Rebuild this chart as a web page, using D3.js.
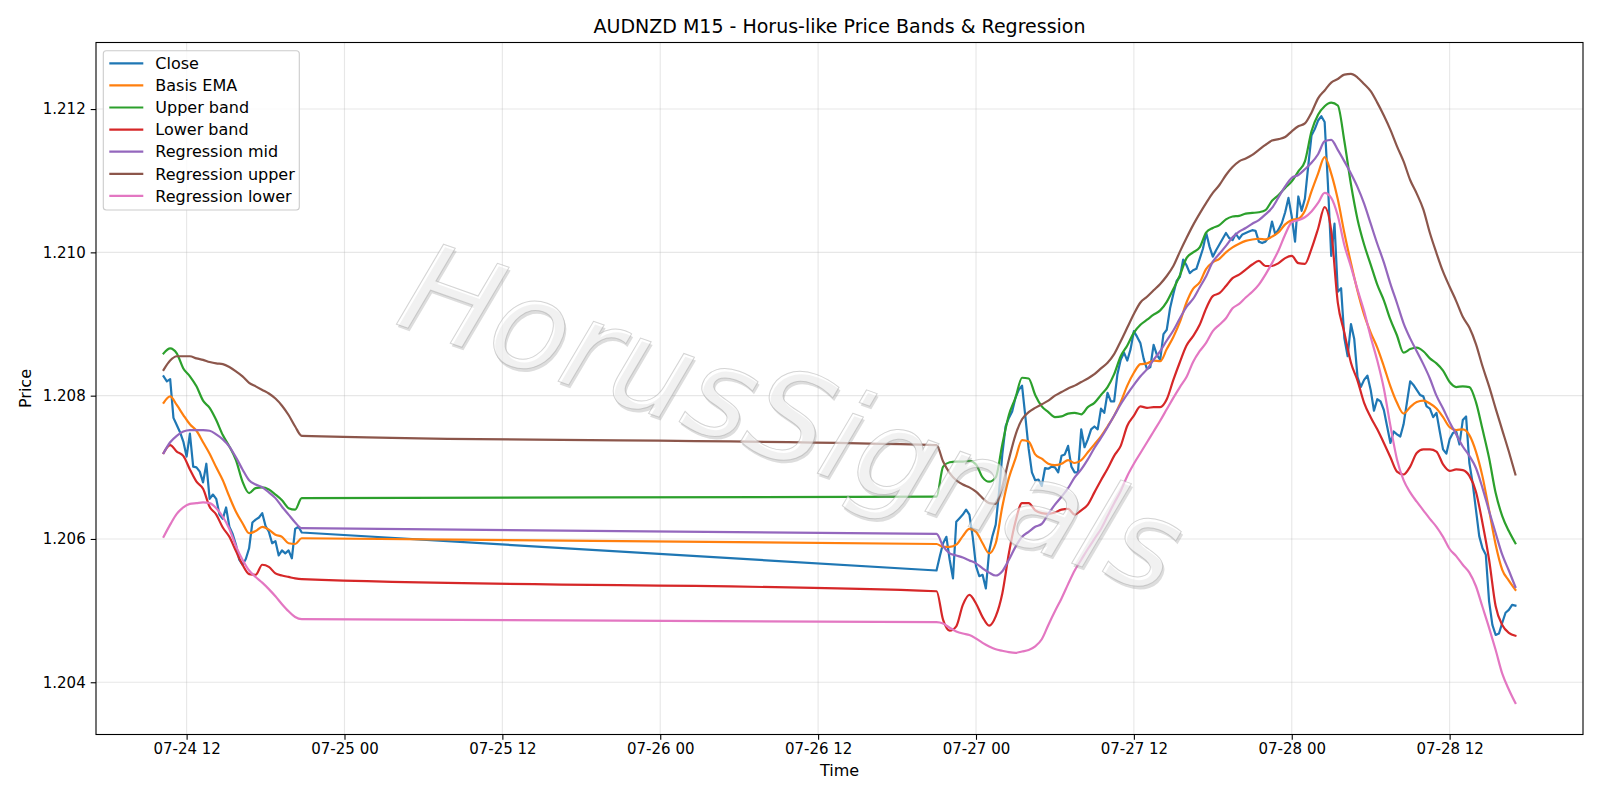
<!DOCTYPE html>
<html><head><meta charset="utf-8">
<script src="https://cdn.jsdelivr.net/npm/d3@7"></script>
<style>body{margin:0;background:#fff}svg{display:block}text{font-family:"DejaVu Sans",sans-serif}</style>
</head><body><svg id="c" width="1600" height="800"></svg>
<script>
// ---------------- data ----------------
const chartTitle = "AUDNZD M15 - Horus-like Price Bands & Regression";
const xLabel = "Time", yLabel = "Price";
const watermark = "HorusSignals";
const seg1Start = "2020-07-24T10:15:00Z";   // Friday session
const seg2Start = "2020-07-26T21:00:00Z";   // Sunday open
const closeStepMin = 15;                    // M15 bars
const bandStepMin = 30;                     // readings of the smooth lines
const yTicks = [1.204, 1.206, 1.208, 1.210, 1.212];

const close1 = [1.20827,1.20820,1.20823,1.20769,1.20759,1.20749,1.20736,1.20715,1.20747,1.20701,
1.20700,1.20694,1.20679,1.20705,1.20656,1.20662,1.20656,1.20634,1.20628,1.20644,
1.20617,1.20607,1.20592,1.20571,1.20564,1.20572,1.20587,1.20623,1.20627,1.20630,
1.20636,1.20618,1.20610,1.20594,1.20597,1.20577,1.20584,1.20580,1.20584,1.20573,
1.20614,1.20617,1.20609];
const close2 = [1.20556,1.20576,1.20594,1.20603,1.20571,1.20545,1.20624,1.20629,1.20634,1.20641,
1.20634,1.20603,1.20562,1.20548,1.20550,1.20531,1.20583,1.20604,1.20620,1.20665,
1.20718,1.20757,1.20769,1.20778,1.20797,1.20808,1.20814,1.20771,1.20726,1.20693,
1.20682,1.20683,1.20674,1.20699,1.20698,1.20701,1.20700,1.20693,1.20716,1.20718,
1.20730,1.20701,1.20693,1.20693,1.20753,1.20728,1.20739,1.20753,1.20757,1.20753,
1.20782,1.20776,1.20804,1.20792,1.20792,1.20830,1.20850,1.20860,1.20849,1.20865,
1.20890,1.20882,1.20873,1.20851,1.20837,1.20840,1.20871,1.20857,1.20850,1.20886,
1.20892,1.20922,1.20942,1.20960,1.20966,1.20990,1.20982,1.20971,1.20975,1.20977,
1.20991,1.21005,1.21027,1.21008,1.20994,1.21003,1.21011,1.21019,1.21027,1.21020,
1.21017,1.21026,1.21019,1.21025,1.21027,1.21029,1.21031,1.21030,1.21015,1.21013,
1.21015,1.21021,1.21043,1.21025,1.21032,1.21041,1.21056,1.21076,1.21050,1.21015,
1.21078,1.21058,1.21075,1.21120,1.21163,1.21172,1.21184,1.21190,1.21182,1.21095,
1.20995,1.21040,1.20945,1.20950,1.20880,1.20855,1.20900,1.20879,1.20826,1.20812,
1.20822,1.20828,1.20808,1.20779,1.20795,1.20792,1.20780,1.20757,1.20734,1.20750,
1.20746,1.20743,1.20760,1.20790,1.20820,1.20815,1.20808,1.20801,1.20799,1.20785,
1.20782,1.20770,1.20776,1.20750,1.20725,1.20719,1.20739,1.20748,1.20750,1.20732,
1.20766,1.20771,1.20706,1.20678,1.20641,1.20604,1.20587,1.20578,1.20513,1.20480,
1.20466,1.20468,1.20483,1.20497,1.20501,1.20508,1.20507];

const basis1 = [1.20790,1.20799,1.20787,1.20773,1.20760,1.20751,1.20735,1.20719,1.20700,1.20682,
1.20659,1.20638,1.20622,1.20608,1.20611,1.20617,1.20613,1.20606,1.20603,1.20594,1.20593,1.20601];
const basis2 = [1.20593,1.20589,1.20589,1.20592,1.20604,1.20614,1.20610,1.20594,1.20580,1.20594,
1.20645,1.20685,1.20712,1.20738,1.20736,1.20718,1.20712,1.20705,1.20703,1.20705,
1.20710,1.20706,1.20710,1.20721,1.20732,1.20743,1.20757,1.20772,1.20791,1.20814,
1.20832,1.20844,1.20845,1.20849,1.20848,1.20865,1.20882,1.20903,1.20930,1.20949,
1.20958,1.20977,1.20986,1.20991,1.21000,1.21007,1.21012,1.21016,1.21018,1.21019,
1.21018,1.21022,1.21028,1.21039,1.21045,1.21047,1.21058,1.21085,1.21110,1.21133,
1.21110,1.21074,1.21027,1.20985,1.20946,1.20913,1.20888,1.20867,1.20841,1.20813,
1.20790,1.20775,1.20784,1.20791,1.20793,1.20789,1.20782,1.20770,1.20756,1.20752,
1.20753,1.20745,1.20722,1.20687,1.20640,1.20592,1.20557,1.20542,1.20529];

const upper1 = [1.20859,1.20866,1.20859,1.20838,1.20827,1.20813,1.20793,1.20783,1.20766,1.20745,
1.20729,1.20710,1.20680,1.20664,1.20671,1.20672,1.20669,1.20662,1.20654,1.20643,1.20641,1.20657];
const upper2 = [1.20659,1.20701,1.20707,1.20708,1.20708,1.20709,1.20704,1.20686,1.20680,1.20686,
1.20732,1.20773,1.20797,1.20825,1.20824,1.20801,1.20785,1.20777,1.20770,1.20771,
1.20775,1.20776,1.20774,1.20784,1.20790,1.20801,1.20812,1.20830,1.20855,1.20870,
1.20888,1.20899,1.20906,1.20913,1.20919,1.20931,1.20949,1.20968,1.20992,1.21000,
1.21007,1.21028,1.21034,1.21038,1.21046,1.21050,1.21051,1.21054,1.21055,1.21056,
1.21059,1.21072,1.21080,1.21090,1.21099,1.21113,1.21127,1.21169,1.21192,1.21204,
1.21209,1.21205,1.21155,1.21095,1.21046,1.21011,1.20983,1.20955,1.20933,1.20906,
1.20884,1.20860,1.20865,1.20867,1.20862,1.20852,1.20845,1.20835,1.20819,1.20812,
1.20813,1.20812,1.20791,1.20753,1.20713,1.20664,1.20632,1.20611,1.20594];

const lower1 = [1.20720,1.20731,1.20722,1.20716,1.20697,1.20680,1.20670,1.20645,1.20634,1.20616,
1.20603,1.20583,1.20564,1.20551,1.20550,1.20564,1.20561,1.20552,1.20549,1.20547,1.20545,1.20544];
const lower2 = [1.20527,1.20487,1.20472,1.20478,1.20508,1.20522,1.20510,1.20491,1.20479,1.20492,
1.20524,1.20580,1.20624,1.20650,1.20650,1.20640,1.20636,1.20635,1.20637,1.20641,
1.20642,1.20634,1.20640,1.20648,1.20665,1.20682,1.20698,1.20716,1.20730,1.20758,
1.20772,1.20785,1.20783,1.20784,1.20784,1.20795,1.20822,1.20847,1.20870,1.20883,
1.20899,1.20922,1.20939,1.20943,1.20953,1.20964,1.20969,1.20976,1.20983,1.20988,
1.20981,1.20981,1.20985,1.20992,1.20995,1.20985,1.20984,1.21005,1.21033,1.21063,
1.21030,1.20930,1.20888,1.20846,1.20821,1.20790,1.20770,1.20753,1.20734,1.20714,
1.20694,1.20690,1.20701,1.20720,1.20725,1.20725,1.20722,1.20704,1.20695,1.20697,
1.20696,1.20688,1.20666,1.20622,1.20571,1.20506,1.20480,1.20469,1.20465];

const regMid1 = [1.20720,1.20735,1.20744,1.20750,1.20752,1.20752,1.20752,1.20751,1.20746,1.20739,
1.20729,1.20714,1.20697,1.20682,1.20676,1.20672,1.20665,1.20657,1.20645,1.20634,1.20623,1.20615];
const regMid2 = [1.20607,1.20590,1.20580,1.20577,1.20574,1.20570,1.20566,1.20559,1.20553,1.20549,
1.20555,1.20571,1.20589,1.20603,1.20610,1.20617,1.20621,1.20635,1.20648,1.20659,
1.20671,1.20686,1.20697,1.20711,1.20727,1.20741,1.20756,1.20772,1.20788,1.20802,
1.20815,1.20827,1.20837,1.20850,1.20862,1.20877,1.20891,1.20908,1.20924,1.20935,
1.20951,1.20967,1.20987,1.20998,1.21009,1.21021,1.21029,1.21034,1.21040,1.21045,
1.21053,1.21062,1.21077,1.21092,1.21104,1.21108,1.21116,1.21125,1.21137,1.21155,
1.21157,1.21143,1.21127,1.21110,1.21091,1.21068,1.21040,1.21012,1.20986,1.20956,
1.20929,1.20901,1.20880,1.20862,1.20844,1.20824,1.20800,1.20782,1.20763,1.20746,
1.20729,1.20716,1.20699,1.20671,1.20639,1.20608,1.20578,1.20556,1.20533];

const regUpper1 = [1.20836,1.20849,1.20855,1.20855,1.20855,1.20852,1.20850,1.20847,1.20845,1.20844,
1.20840,1.20834,1.20827,1.20818,1.20813,1.20808,1.20803,1.20796,1.20786,1.20773,1.20757,1.20744];
const regUpper2 = [1.20731,1.20708,1.20692,1.20682,1.20676,1.20672,1.20666,1.20657,1.20650,1.20649,
1.20673,1.20711,1.20745,1.20767,1.20777,1.20783,1.20788,1.20793,1.20800,1.20805,
1.20810,1.20814,1.20819,1.20824,1.20830,1.20838,1.20846,1.20858,1.20876,1.20895,
1.20914,1.20930,1.20938,1.20947,1.20956,1.20967,1.20981,1.21001,1.21020,1.21038,
1.21054,1.21069,1.21083,1.21094,1.21108,1.21119,1.21127,1.21131,1.21136,1.21143,
1.21150,1.21156,1.21158,1.21161,1.21169,1.21176,1.21180,1.21195,1.21215,1.21226,
1.21237,1.21242,1.21248,1.21249,1.21244,1.21235,1.21225,1.21209,1.21191,1.21171,
1.21148,1.21127,1.21101,1.21082,1.21060,1.21027,1.20999,1.20973,1.20952,1.20932,
1.20910,1.20895,1.20872,1.20841,1.20813,1.20782,1.20752,1.20722,1.20690];

const regLower1 = [1.20603,1.20620,1.20635,1.20644,1.20649,1.20650,1.20651,1.20650,1.20643,1.20631,
1.20614,1.20590,1.20571,1.20556,1.20547,1.20539,1.20530,1.20520,1.20509,1.20499,1.20491,1.20488];
const regLower2 = [1.20484,1.20482,1.20476,1.20471,1.20468,1.20466,1.20461,1.20455,1.20450,1.20446,
1.20444,1.20442,1.20441,1.20443,1.20445,1.20450,1.20460,1.20480,1.20499,1.20517,
1.20537,1.20556,1.20571,1.20586,1.20600,1.20614,1.20632,1.20650,1.20667,1.20688,
1.20705,1.20720,1.20735,1.20750,1.20765,1.20781,1.20797,1.20812,1.20826,1.20847,
1.20862,1.20874,1.20890,1.20899,1.20908,1.20922,1.20928,1.20937,1.20945,1.20955,
1.20969,1.20985,1.21003,1.21025,1.21042,1.21045,1.21049,1.21057,1.21069,1.21083,
1.21076,1.21051,1.21010,1.20980,1.20948,1.20918,1.20882,1.20849,1.20810,1.20758,
1.20711,1.20682,1.20665,1.20652,1.20640,1.20628,1.20617,1.20603,1.20586,1.20576,
1.20564,1.20553,1.20534,1.20505,1.20476,1.20445,1.20412,1.20390,1.20371];

const seriesNames = ["Close","Basis EMA","Upper band","Lower band","Regression mid","Regression upper","Regression lower"];
const seriesColors = ["#1f77b4","#ff7f0e","#2ca02c","#d62728","#9467bd","#8c564b","#e377c2"];

// ---------------- build ----------------
const segA = [close1,basis1,upper1,lower1,regMid1,regUpper1,regLower1];
const segB = [close2,basis2,upper2,lower2,regMid2,regUpper2,regLower2];
const steps = [closeStepMin,bandStepMin,bandStepMin,bandStepMin,bandStepMin,bandStepMin,bandStepMin];
const stamp = (start,i,step) => new Date(Date.parse(start) + i*step*60000);
const series = seriesNames.map((name,k) => ({
  name, color: seriesColors[k], smooth: k>0,
  pts: segA[k].map((v,i)=>({t:stamp(seg1Start,i,steps[k]),v}))
        .concat(segB[k].map((v,i)=>({t:stamp(seg2Start,i,steps[k]),v})))
}));

const W=1600,H=800, m={l:96,r:17,t:42.5,b:65.5};
const svg = d3.select("#c");
const all = series.flatMap(s=>s.pts);
const tExt = d3.extent(all,d=>d.t), vExt = d3.extent(all,d=>d.v);
const tPad = (tExt[1]-tExt[0])*0.05, vPad = (vExt[1]-vExt[0])*0.05;
const x = d3.scaleUtc().domain([new Date(+tExt[0]-tPad), new Date(+tExt[1]+tPad)]).range([m.l, W-m.r]);
const y = d3.scaleLinear().domain([vExt[0]-vPad, vExt[1]+vPad]).range([H-m.b, m.t]);

const fs = 15, fsLab = 16, fsLeg = 16, fsTitle = 19;
// grid
const xt = x.ticks(d3.utcHour.every(12));
const g = svg.append("g");
g.selectAll("line.gx").data(xt).join("line").attr("x1",d=>x(d)).attr("x2",d=>x(d))
 .attr("y1",m.t).attr("y2",H-m.b).attr("stroke","#b0b0b0").attr("stroke-opacity",0.3).attr("stroke-width",1.1);
g.selectAll("line.gy").data(yTicks).join("line").attr("y1",d=>y(d)).attr("y2",d=>y(d))
 .attr("x1",m.l).attr("x2",W-m.r).attr("stroke","#b0b0b0").attr("stroke-opacity",0.3).attr("stroke-width",1.1);

// lines
const lineLin = d3.line().x(d=>x(d.t)).y(d=>y(d.v));
const lineSm = d3.line().x(d=>x(d.t)).y(d=>y(d.v)).curve(d3.curveMonotoneX);
svg.append("g").selectAll("path").data(series).join("path")
 .attr("d",s=>(s.smooth?lineSm:lineLin)(s.pts)).attr("fill","none")
 .attr("stroke",s=>s.color).attr("stroke-width",2.2).attr("stroke-linejoin","round").attr("stroke-linecap","square");

// axes
const xAxis = d3.axisBottom(x).tickValues(xt).tickFormat(d3.utcFormat("%m-%d %H")).tickSize(5.3).tickPadding(4);
const yAxis = d3.axisLeft(y).tickValues(yTicks).tickFormat(d3.format(".3f")).tickSize(5.3).tickPadding(5);
const ax = svg.append("g").attr("transform",`translate(0,${H-m.b})`).call(xAxis);
const ay = svg.append("g").attr("transform",`translate(${m.l},0)`).call(yAxis);
[ax,ay].forEach(a=>{a.select(".domain").remove();
  a.selectAll("line").attr("stroke","#000").attr("stroke-width",1.1);
  a.selectAll("text").attr("fill","#000").style("font-size",fs+"px").style("font-family","DejaVu Sans");});
svg.append("rect").attr("x",m.l).attr("y",m.t).attr("width",W-m.l-m.r).attr("height",H-m.t-m.b)
 .attr("fill","none").attr("stroke","#000").attr("stroke-width",1.1);

// labels
svg.append("text").attr("x",(m.l+W-m.r)/2).attr("y",33).attr("text-anchor","middle").style("font-size",fsTitle+"px").text(chartTitle);
svg.append("text").attr("x",(m.l+W-m.r)/2).attr("y",776).attr("text-anchor","middle").style("font-size",fsLab+"px").text(xLabel);
svg.append("text").attr("transform",`translate(31,${(m.t+H-m.b)/2}) rotate(-90)`).attr("text-anchor","middle").style("font-size",fsLab+"px").text(yLabel);

// watermark
const wm = svg.append("g").attr("transform","translate(792,418) rotate(19.5)");
wm.append("text").attr("x",2.5).attr("y",2.5).attr("text-anchor","middle").attr("dominant-baseline","central")
 .style("font-size","125px").style("font-style","italic").attr("fill","#909090").attr("fill-opacity",0.3).text(watermark);
wm.append("text").attr("text-anchor","middle").attr("dominant-baseline","central")
 .style("font-size","125px").style("font-style","italic").attr("fill","#ffffff").attr("fill-opacity",0.6)
 .attr("stroke","#a0a0a0").attr("stroke-opacity",0.45).attr("stroke-width",1).text(watermark);

// legend
const lg = svg.append("g");
lg.append("rect").attr("x",103.3).attr("y",50.7).attr("width",196).attr("height",159.3).attr("rx",3)
 .attr("fill","#fff").attr("fill-opacity",0.8).attr("stroke","#cccccc").attr("stroke-width",1.1);
series.forEach((s,i)=>{
  const cy = 63.3 + i*22.1;
  lg.append("line").attr("x1",109.3).attr("x2",143.3).attr("y1",cy).attr("y2",cy).attr("stroke",s.color).attr("stroke-width",2.2);
  lg.append("text").attr("x",155.3).attr("y",cy).attr("dy","0.36em").style("font-size",fsLeg+"px").text(s.name);
});
</script></body></html>
